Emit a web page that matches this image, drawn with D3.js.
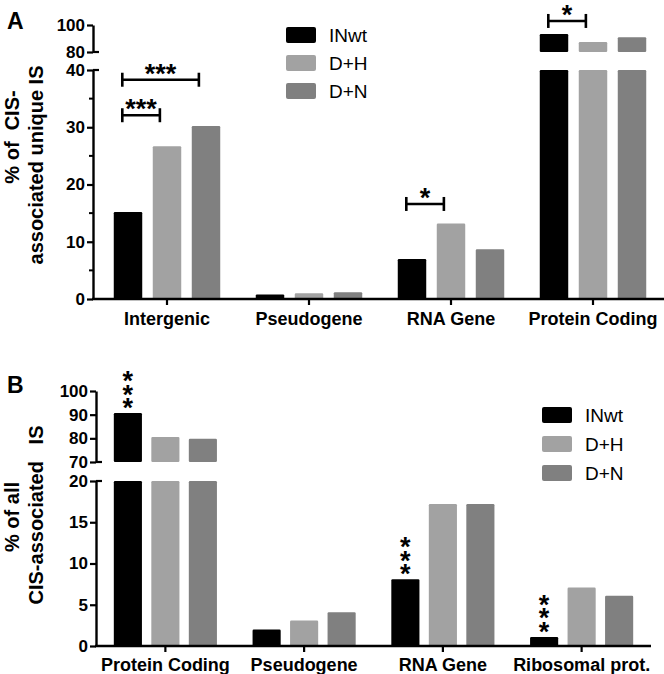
<!DOCTYPE html>
<html><head><meta charset="utf-8">
<script src="https://cdn.jsdelivr.net/npm/d3@7"></script>
<style>body{margin:0;background:#fff}svg{display:block}text{font-family:"Liberation Sans",Arial,Helvetica,sans-serif}</style>
</head><body><svg id="c" width="664" height="674"></svg>
<script>
// ---------- data ----------
const seriesNames = ["INwt", "D+H", "D+N"];
const seriesColors = ["#000000", "#a2a2a2", "#808080"];

const catsA = ["Intergenic", "Pseudogene", "RNA Gene", "Protein Coding"];
const aINwt = [15.2, 0.8, 7.0, 93.3];
const aDH   = [26.7, 1.0, 13.2, 87.4];
const aDN   = [30.2, 1.2, 8.7, 91.0];
const ticksALower = [0, 10, 20, 30, 40];
const minorALower = [5, 15, 25, 35];
const ticksAUpper = [80, 100];

const catsB = ["Protein Coding", "Pseudogene", "RNA Gene", "Ribosomal prot."];
const bINwt = [90.7, 2.0, 8.1, 1.1];
const bDH   = [80.6, 3.1, 17.2, 7.1];
const bDN   = [79.8, 4.1, 17.2, 6.1];
const ticksBLower = [0, 5, 10, 15, 20];
const ticksBUpper = [70, 80, 90, 100];

// significance: category, from series idx, to series idx, label, level (value units)
const sigA = [
  {cat: "Intergenic", from: 0, to: 2, label: "***", level: 38.3, seg: "low"},
  {cat: "Intergenic", from: 0, to: 1, label: "***", level: 32.1, seg: "low"},
  {cat: "RNA Gene", from: 0, to: 1, label: "*", level: 16.6, seg: "low"},
  {cat: "Protein Coding", from: 0, to: 1, label: "*", level: 103, seg: "up"}
];
const sigB = ["Protein Coding", "RNA Gene", "Ribosomal prot."];

const svg = d3.select("#c");
const FONT = '"Liberation Sans",Arial,Helvetica,sans-serif';

function drawPanel(o) {
  const g = svg.append("g");
  const x = d3.scaleBand().domain(o.cats).range([o.x0, o.x1]);
  const xs = d3.scaleBand().domain(seriesNames)
    .range([-o.grp / 2, o.grp / 2]).paddingInner(o.pad).paddingOuter(o.pad / 2);
  const yL = d3.scaleLinear().domain(o.lowDom).range([o.base, o.lowTop]);
  const yU = d3.scaleLinear().domain(o.upDom).range([o.upBot, o.upTop]);
  const vals = o.values;

  seriesNames.forEach((s, si) => {
    o.cats.forEach((c, ci) => {
      const v = vals[si][ci];
      const bx = x(c) + x.bandwidth() / 2 + xs(s);
      const w = xs.bandwidth();
      if (v <= o.lowDom[1]) {
        g.append("rect").attr("x", bx).attr("y", yL(v)).attr("width", w)
          .attr("height", yL(0) - yL(v)).attr("fill", seriesColors[si]).attr("rx", 1.2);
      } else {
        g.append("rect").attr("x", bx).attr("y", yL(o.lowDom[1])).attr("width", w)
          .attr("height", yL(0) - yL(o.lowDom[1])).attr("fill", seriesColors[si]).attr("rx", 1.2);
        g.append("rect").attr("x", bx).attr("y", yU(v)).attr("width", w)
          .attr("height", yU(o.upDom[0]) - yU(v)).attr("fill", seriesColors[si]).attr("rx", 1.2);
      }
    });
  });

  const axL = g.append("g").attr("transform", `translate(${o.ax},0)`)
    .call(d3.axisLeft(yL).tickValues(o.ticksL).tickSize(6).tickSizeOuter(0).tickFormat(d3.format("d")));
  const axU = g.append("g").attr("transform", `translate(${o.ax},0)`)
    .call(d3.axisLeft(yU).tickValues(o.ticksU).tickSize(6).tickSizeOuter(0).tickFormat(d3.format("d")));
  [axL, axU].forEach(a => {
    a.select(".domain").attr("stroke", "#000").attr("stroke-width", 2.4);
    a.selectAll(".tick line").attr("stroke", "#000").attr("stroke-width", 2.2);
    a.selectAll(".tick text").attr("font-size", 17).attr("font-weight", "bold")
      .attr("font-family", FONT).attr("fill", "#000").attr("x", -8);
  });
  if (o.minor) {
    axL.selectAll(".minor").data(o.minor).enter().append("line")
      .attr("x1", -4).attr("x2", 0).attr("y1", d => yL(d)).attr("y2", d => yL(d))
      .attr("stroke", "#000").attr("stroke-width", 2);
  }
  g.append("line").attr("x1", o.ax).attr("x2", o.ax + 6)
    .attr("y1", yL(o.lowDom[1])).attr("y2", yL(o.lowDom[1])).attr("stroke", "#000").attr("stroke-width", 2.2);
  g.append("line").attr("x1", o.ax).attr("x2", o.ax + 6)
    .attr("y1", yU(o.upDom[0])).attr("y2", yU(o.upDom[0])).attr("stroke", "#000").attr("stroke-width", 2.2);

  const axX = g.append("g").attr("transform", `translate(0,${o.base})`)
    .call(d3.axisBottom(x).tickSize(6).tickSizeOuter(0));
  axX.select(".domain").remove();
  axX.selectAll(".tick line").attr("stroke", "#000").attr("stroke-width", 2.2);
  axX.selectAll(".tick text").attr("font-size", 18).attr("font-weight", "bold")
    .attr("font-family", FONT).attr("fill", "#000").attr("y", o.labY - o.base).attr("dy", 0);
  g.append("line").attr("x1", o.ax - 1).attr("x2", o.x1).attr("y1", o.base).attr("y2", o.base)
    .attr("stroke", "#000").attr("stroke-width", 2.4);

  seriesNames.forEach((s, si) => {
    g.append("rect").attr("x", o.legX).attr("y", o.legY + si * o.legStep).attr("width", 30).attr("height", 16)
      .attr("rx", 2).attr("fill", seriesColors[si]);
    g.append("text").attr("x", o.legX + 43).attr("y", o.legY + si * o.legStep + 8).attr("dy", "0.35em")
      .attr("font-size", 19).attr("fill", "#000").text(s);
  });

  g.append("text").attr("x", 7).attr("y", o.letterY).attr("font-size", 23).attr("font-weight", "bold").text(o.letter);

  o.ylab.forEach(l => {
    g.append("text").attr("transform", `translate(${l.x},${l.y}) rotate(-90)`)
      .attr("text-anchor", "middle").attr("dy", "0.35em").attr("font-size", 20).attr("font-weight", "bold")
      .attr("xml:space", "preserve").style("white-space", "pre").text(l.t);
  });
  return {g, x, xs, yL, yU};
}

const A = drawPanel({
  cats: catsA, values: [aINwt, aDH, aDN], x0: 96, x1: 664, grp: 117, pad: 0.27,
  lowDom: [0, 40], upDom: [80, 100], base: 299, lowTop: 70, upBot: 52, upTop: 25,
  ax: 93, ticksL: ticksALower, ticksU: ticksAUpper, minor: minorALower, labY: 325,
  legX: 286, legY: 27, legStep: 28, letter: "A", letterY: 29,
  ylab: [{t: "% of  CIS-", x: 12, y: 137}, {t: "associated unique IS", x: 36, y: 165}]
});
const B = drawPanel({
  cats: catsB, values: [bINwt, bDH, bDN], x0: 96, x1: 651, grp: 112.5, pad: 0.25,
  lowDom: [0, 20], upDom: [70, 100], base: 646, lowTop: 481, upBot: 462, upTop: 391,
  ax: 96, ticksL: ticksBLower, ticksU: ticksBUpper, minor: null, labY: 671,
  legX: 542, legY: 407, legStep: 29, letter: "B", letterY: 393,
  ylab: [{t: "% of all", x: 12, y: 517}, {t: "CIS-associated   IS", x: 36, y: 515}]
});

const STAR = 27;
sigA.forEach(s => {
  const c = A.x(s.cat) + A.x.bandwidth() / 2;
  const x1 = c + A.xs(seriesNames[s.from]) + A.xs.bandwidth() * 0.3;
  const x2 = c + A.xs(seriesNames[s.to]) + A.xs.bandwidth() * 0.25;
  const y = s.seg === "low" ? A.yL(s.level) : A.yU(s.level);
  const gg = A.g.append("g").attr("stroke", "#000").attr("stroke-width", 2.6);
  gg.append("line").attr("x1", x1).attr("x2", x2).attr("y1", y).attr("y2", y);
  gg.append("line").attr("x1", x1).attr("x2", x1).attr("y1", y - 7).attr("y2", y + 7);
  gg.append("line").attr("x1", x2).attr("x2", x2).attr("y1", y - 7).attr("y2", y + 7);
  A.g.append("text").attr("x", (x1 + x2) / 2).attr("y", y - 13 + 0.585 * STAR)
    .attr("text-anchor", "middle").attr("font-size", STAR).attr("font-weight", "bold").text(s.label);
});

// stacked stars panel B: one vertical text per stack
sigB.forEach(cat => {
  const ci = catsB.indexOf(cat);
  const v = bINwt[ci];
  const cx = B.x(cat) + B.x.bandwidth() / 2 + B.xs(seriesNames[0]) + B.xs.bandwidth() / 2;
  const top = v <= 20 ? B.yL(v) : B.yU(v);
  B.g.append("text").attr("x", cx).attr("y", top - 47)
    .style("writing-mode", "vertical-rl").style("text-orientation", "upright")
    .style("letter-spacing", "-16.5px")
    .attr("font-size", STAR).attr("font-weight", "bold").text("***");
});
</script></body></html>
